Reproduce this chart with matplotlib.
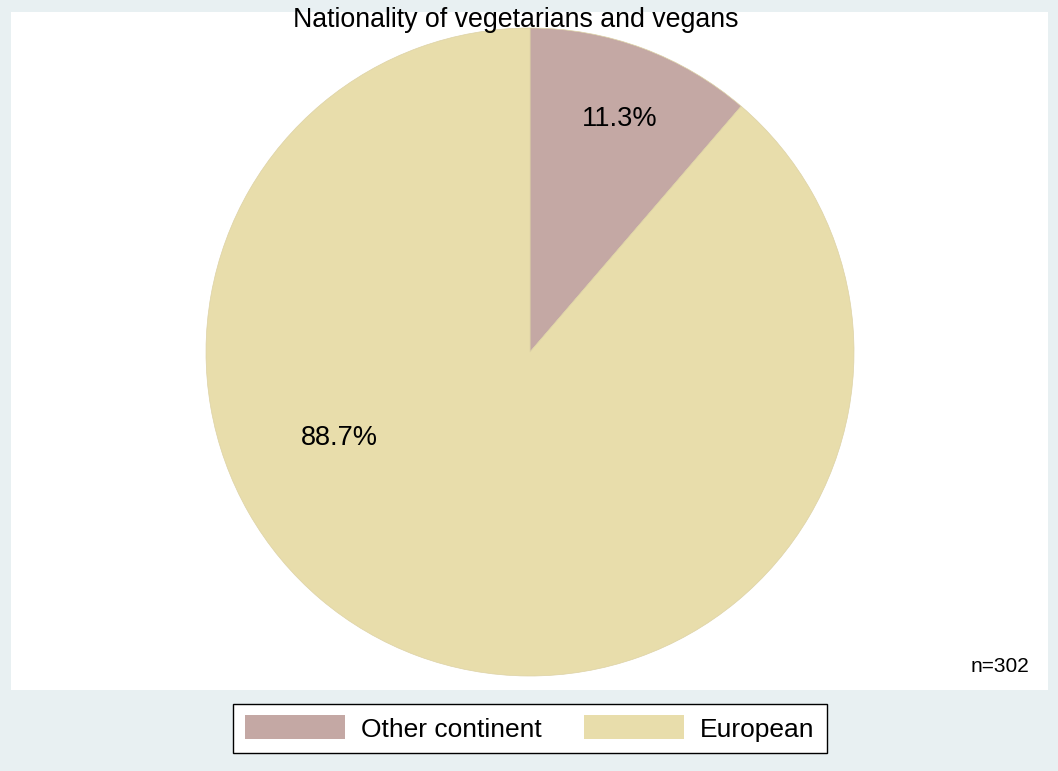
import numpy as np
import matplotlib.pyplot as plt
from matplotlib.patches import Rectangle

plt.rcParams['font.family'] = ['Liberation Sans', 'DejaVu Sans']

categories = ['Other continent', 'European']
shares = [11.3, 88.7]
colors = ['#C4A8A4', '#E8DDAB']
n_total = 302
title = 'Nationality of vegetarians and vegans'

W, H = 1058, 771
fig = plt.figure(figsize=(W / 100, H / 100), dpi=100)
fig.patch.set_facecolor('#E8F0F2')

# one axes in pixel units over the whole figure
ax = fig.add_axes([0, 0, 1, 1])

# white plot region
ax.add_patch(Rectangle((11, H - 690), 1037, 678, facecolor='white', edgecolor='none', zorder=0))

cx, cy, r = 530, H - 352, 324
wedges, _ = ax.pie(shares, colors=colors, startangle=90, counterclock=False,
                   center=(cx, cy), radius=r, frame=True,
                   wedgeprops=dict(edgecolor='#DDD2A6', linewidth=0.5))
ax.set_xlim(0, W)
ax.set_ylim(0, H)
ax.set_aspect('equal')
ax.axis('off')

# percentage labels (Stata-like placement)
label_pos = [(69.0, 0.77), (204.2, 0.645)]
for val, (ang, frac) in zip(shares, label_pos):
    a = np.deg2rad(ang)
    ax.text(cx + frac * r * np.cos(a), cy + frac * r * np.sin(a), f'{val:.1f}%',
            ha='center', va='center', fontsize=19.5, color='black')

ax.text(516, H - 20, title, ha='center', va='center', fontsize=19.3)
ax.text(1029, H - 666, f'n={n_total}', ha='right', va='center', fontsize=15)

leg = fig.legend(wedges, categories, loc='center', bbox_to_anchor=(530 / W, 1 - 728.5 / H),
                 ncol=2, fontsize=19, frameon=True, fancybox=False, framealpha=1,
                 handlelength=3.79, handleheight=1.02, columnspacing=1.59,
                 handletextpad=0.61, borderpad=0.45)
leg.get_frame().set_edgecolor('black')
leg.get_frame().set_facecolor('white')
leg.get_frame().set_linewidth(1.0)
for h in leg.legend_handles:
    h.set_linewidth(0)

fig.savefig('out.png', dpi=100, facecolor=fig.get_facecolor())
